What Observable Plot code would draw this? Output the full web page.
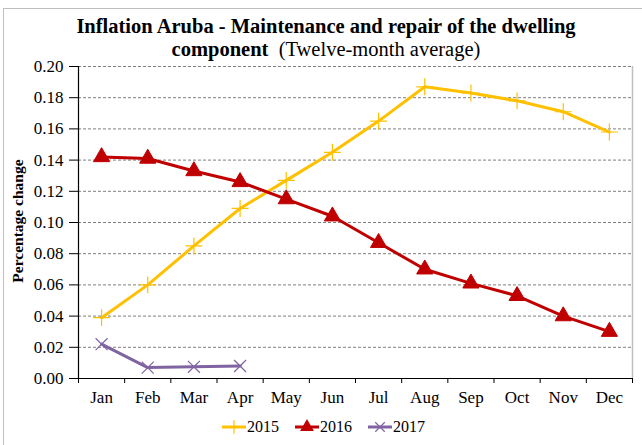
<!DOCTYPE html>
<html>
<head>
<meta charset="utf-8">
<script src="https://cdn.jsdelivr.net/npm/d3@7"></script>
<script src="https://cdn.jsdelivr.net/npm/@observablehq/plot@0.6"></script>
<style>
  html, body { margin: 0; padding: 0; background: #fff; }
  body { width: 642px; height: 445px; position: relative; overflow: hidden; font-family: "Liberation Serif", "Times New Roman", serif; color: #000; }
  #frame { position: absolute; left: 3px; top: 8px; width: 700px; height: 500px; border: 1px solid #bfbfbf; box-sizing: border-box; }
  #title { position: absolute; left: 0; width: 652px; top: 15px; text-align: center; font-size: 20.5px; line-height: 23px; }
  #title b { font-weight: bold; }
  #ylabel { position: absolute; left: 18px; top: 221px; transform: translate(-50%, -50%) rotate(-90deg); font-size: 15.5px; font-weight: bold; white-space: nowrap; }
  #chart { position: absolute; left: 0; top: 56px; }
  #chart svg, #chart svg text { font-family: "Liberation Serif", "Times New Roman", serif !important; }
  #legend { position: absolute; left: 0; width: 642px; top: 418px; display: flex; justify-content: center; gap: 15px; font-size: 16px; padding-left: 4px; box-sizing: border-box; }
  .item { display: flex; align-items: center; }
  .item svg { display: block; }
</style>
</head>
<body>
<div id="frame"></div>
<div id="title"><b>Inflation Aruba - Maintenance and repair of the dwelling</b><br><b>component</b>&nbsp; (Twelve-month average)</div>
<div id="ylabel">Percentage change</div>
<div id="chart"></div>
<div id="legend"></div>
<script>
const months = ["Jan","Feb","Mar","Apr","May","Jun","Jul","Aug","Sep","Oct","Nov","Dec"];
const values2015 = [0.039, 0.060, 0.085, 0.109, 0.127, 0.145, 0.165, 0.187, 0.183, 0.178, 0.171, 0.158];
const values2016 = [0.142, 0.141, 0.133, 0.126, 0.115, 0.104, 0.087, 0.070, 0.061, 0.053, 0.040, 0.030];
const values2017 = [0.022, 0.007, 0.0075, 0.008];
const yTicks = [0, 0.02, 0.04, 0.06, 0.08, 0.10, 0.12, 0.14, 0.16, 0.18, 0.20];
const seriesNames = ["2015", "2016", "2017"];
const seriesColors = ["#FFC000", "#C00000", "#8064A2"];
const seriesSymbols = ["plus", "triangle", "times"];

const seriesValues = [values2015, values2016, values2017];
const data = seriesValues.flatMap((vals, k) => vals.map((v, i) => ({m: i, v, s: seriesNames[k]})));
const monthIdx = months.map((_, i) => i);
const boundaries = months.map((_, i) => i - 0.5).concat([months.length - 0.5]);

const chart = Plot.plot({
  width: 642,
  height: 354,
  marginLeft: 78,
  marginRight: 10,
  marginTop: 10,
  marginBottom: 32,
  style: {fontFamily: "'Liberation Serif', 'Times New Roman', serif", fontSize: "17px", color: "#000", background: "transparent", overflow: "visible"},
  x: {type: "linear", domain: [-0.5, months.length - 0.5]},
  y: {domain: [0, 0.2]},
  color: {domain: seriesNames, range: seriesColors},
  symbol: {domain: seriesNames, range: seriesSymbols},
  marks: [
    Plot.ruleY(yTicks.slice(1), {stroke: "#7f7f7f", strokeDasharray: "3,2", strokeWidth: 1}),
    Plot.ruleX([months.length - 0.5], {stroke: "#bfbfbf", strokeWidth: 1.5}),
    Plot.axisY(yTicks, {tickFormat: d => d.toFixed(2), tickSize: 9, tickPadding: 6, label: null, stroke: "#000", strokeOpacity: 1, fontSize: 17}),
    Plot.axisX(monthIdx, {tickFormat: i => months[i], tickSize: 0, tickPadding: 12, label: null, fontSize: 17}),
    Plot.axisX(boundaries, {tickFormat: () => "", tickSize: 5, label: null, stroke: "#000", strokeOpacity: 1}),
    Plot.ruleX([-0.5], {stroke: "#000", strokeWidth: 1.2}),
    Plot.ruleY([0], {stroke: "#000", strokeWidth: 1.2}),
    Plot.line(data, {x: "m", y: "v", z: "s", stroke: "s", strokeWidth: 3, curve: "linear"}),
    Plot.dot(data.filter(d => d.s !== "2016"), {x: "m", y: "v", symbol: "s", stroke: "s", r: 5.5, strokeWidth: 1.2}),
    Plot.dot(data.filter(d => d.s === "2016"), {x: "m", y: "v", symbol: "s", stroke: "s", fill: "s", r: 6, strokeWidth: 1})
  ]
});
document.getElementById("chart").appendChild(chart);

// Legend
const legend = d3.select("#legend");
seriesNames.forEach((name, k) => {
  const item = legend.append("div").attr("class", "item");
  const svg = item.append("svg").attr("width", 26).attr("height", 16);
  svg.append("line").attr("x1", 1).attr("x2", 25).attr("y1", 8).attr("y2", 8)
    .attr("stroke", seriesColors[k]).attr("stroke-width", 3);
  const sym = {plus: d3.symbolPlus, triangle: d3.symbolTriangle, times: d3.symbolTimes}[seriesSymbols[k]];
  const path = d3.symbol(sym, 60)();
  svg.append("path").attr("d", path).attr("transform", "translate(13,8)")
    .attr("fill", seriesSymbols[k] === "triangle" ? seriesColors[k] : "none")
    .attr("stroke", seriesColors[k]).attr("stroke-width", 1.2);
  item.append("span").text(name);
});
</script>
</body>
</html>
